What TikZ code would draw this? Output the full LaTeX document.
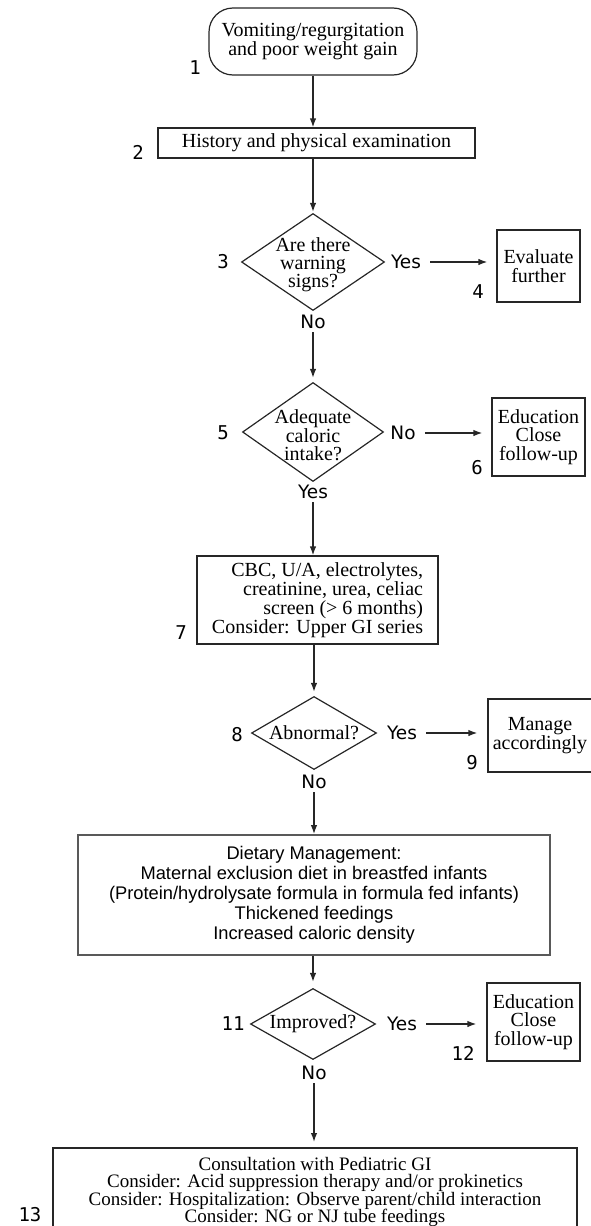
\documentclass[tikz,border=0pt]{standalone}
\usepackage{fontspec}
\setmainfont{Liberation Serif}
\newfontfamily\sansf{Liberation Sans}
\newfontfamily\dvs{DejaVu Sans}
\newfontfamily\dvm{DejaVu Sans Mono}
\usetikzlibrary{shapes.geometric,arrows.meta}
\begin{document}
\begin{tikzpicture}[x=1pt,y=-1pt,
  box/.style={draw=black!85, line width=1.2pt, inner sep=0pt, align=center, font=\fontsize{20}{18.5}\selectfont},
  dia/.style={draw=black!85, line width=1.2pt, diamond, inner sep=0pt},
  dtext/.style={align=center, inner sep=0pt, font=\fontsize{20}{18}\selectfont},
  yn/.style={inner sep=0pt, font=\dvs\fontsize{18.5}{20}\selectfont},
  num/.style={inner sep=0pt, font=\dvm\fontsize{19}{20}\selectfont},
  arr/.style={-{Latex[length=9pt,width=6.5pt]}, line width=1.4pt, draw=black!85},
]
\useasboundingbox (0,0) rectangle (590,1226);

\node[box, rounded corners=24pt, minimum width=208pt, minimum height=67pt] (n1) at (313,41.5) {Vomiting/regurgitation\\and poor weight gain};
\node[box, minimum width=317pt, minimum height=30pt] (n2) at (316.5,143) {History and physical examination};
\node[dia, minimum width=143pt, minimum height=97pt] (n3) at (313,262) {};
\node[dtext] (t3) at (313,265) {Are there\\warning\\signs?};
\node[box, minimum width=83pt, minimum height=72pt] (n4) at (538.5,266) {Evaluate\\further};
\node[dia, minimum width=141pt, minimum height=99pt] (n5) at (313,432) {};
\node[dtext] (t5) at (313,435) {Adequate\\caloric\\intake?};
\node[box, minimum width=93pt, minimum height=78pt] (n6) at (538.5,437) {Education\\Close\\follow-up};
\node[box, align=right, minimum width=241pt, minimum height=88pt, font=\fontsize{20}{19}\selectfont] (n7) at (317.5,600) {CBC, U/A, electrolytes,\\creatinine, urea, celiac\\screen (> 6 months)\\Consider: Upper GI series};
\node[dia, minimum width=125pt, minimum height=73pt] (n8) at (314,733) {};
\node[dtext] (t8) at (314,733) {Abnormal?};
\node[box, minimum width=104pt, minimum height=73pt] (n9) at (540,735.5) {Manage\\accordingly};
\node[box, draw=black!65, line width=1.8pt, minimum width=472pt, minimum height=120pt, font=\sansf\fontsize{18.3}{20}\selectfont] (n10) at (314,895) {Dietary Management:\\Maternal exclusion diet in breastfed infants\\(Protein/hydrolysate formula in formula fed infants)\\Thickened feedings\\Increased caloric density};
\node[dia, minimum width=125pt, minimum height=71pt] (n11) at (313,1024) {};
\node[dtext] (t11) at (313,1024) {Improved?};
\node[box, minimum width=93pt, minimum height=78pt] (n12) at (533.5,1022) {Education\\Close\\follow-up};
\node[box, line width=2pt, minimum width=524pt, minimum height=88pt, font=\fontsize{19}{17.5}\selectfont] (n13) at (315,1192) {Consultation with Pediatric GI\\Consider: Acid suppression therapy and/or prokinetics\\Consider: Hospitalization: Observe parent/child interaction\\Consider: NG or NJ tube feedings};

\node[yn] (yes3) at (406,262) {Yes};
\node[yn] (no3) at (313,322) {No};
\node[yn] (no5) at (403,433) {No};
\node[yn] (yes5) at (313,492) {Yes};
\node[yn] (yes8) at (402,733) {Yes};
\node[yn] (no8) at (314,782) {No};
\node[yn] (yes11) at (402,1024) {Yes};
\node[yn] (no11) at (314,1073) {No};

\node[num] (l1) at (195,68) {1};
\node[num] (l2) at (138,152) {2};
\node[num] (l3) at (223,262) {3};
\node[num] (l4) at (478,292) {4};
\node[num] (l5) at (223,433) {5};
\node[num] (l6) at (477,468) {6};
\node[num] (l7) at (181,633) {7};
\node[num] (l8) at (237,735) {8};
\node[num] (l9) at (472,763) {9};
\node[num] (l11) at (233,1024) {11};
\node[num] (l12) at (463,1053) {12};
\node[num] (l13) at (30,1215) {13};

\draw[arr] (n1.south) -- (n1.south |- n2.north);
\draw[arr, shorten >=1pt] (n3.north |- n2.south) -- (n3.north);
\draw[arr, shorten <=9pt, shorten >=9pt] (yes3.east) -- (n4.west |- yes3.east);
\draw[arr, shorten <=3pt, shorten >=4pt] (no3.south) -- (n5.north);
\draw[arr, shorten <=9pt, shorten >=9pt] (no5.east) -- (n6.west |- no5.east);
\draw[arr, shorten <=3pt] (yes5.south) -- (yes5.south |- n7.north);
\draw[arr, shorten >=4pt] (n8.north |- n7.south) -- (n8.north);
\draw[arr, shorten <=9pt, shorten >=10pt] (yes8.east) -- (n9.west |- yes8.east);
\draw[arr, shorten <=3pt] (no8.south) -- (no8.south |- n10.north);
\draw[arr, shorten >=6pt] (n11.north |- n10.south) -- (n11.north);
\draw[arr, shorten <=9pt, shorten >=10pt] (yes11.east) -- (n12.west |- yes11.east);
\draw[arr, shorten <=3pt, shorten >=5pt] (no11.south) -- (no11.south |- n13.north);
\end{tikzpicture}
\end{document}
